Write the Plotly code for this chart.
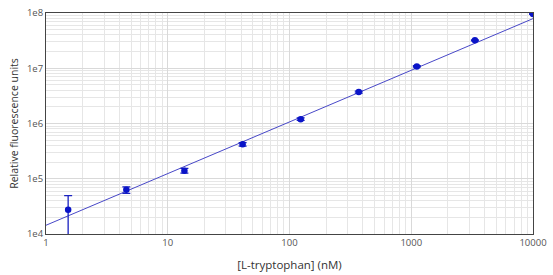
import numpy as np
import plotly.graph_objects as go

conc_nM = [1.52, 4.57, 13.7, 41.2, 123.5, 370.4, 1111, 3333, 10000]
rfu = [27500, 63000, 140000, 420000, 1.2e6, 3.7e6, 1.08e7, 3.2e7, 9.6e7]
rfu_err = [22000, 8500, 14000, 30000, 60000, 150000, 300000, 600000, 1.0e6]

fit_intercept = 14400
fit_slope = 0.935

x_ticks = [1, 10, 100, 1000, 10000]
x_ticktext = ["1", "10", "100", "1000", "10000"]
y_ticks = [1e4, 1e5, 1e6, 1e7, 1e8]
y_ticktext = ["1e4", "1e5", "1e6", "1e7", "1e8"]

fit_x = np.logspace(0, 4, 50)
fit_y = fit_intercept * fit_x ** fit_slope

fig = go.Figure()
fig.add_trace(go.Scatter(x=fit_x, y=fit_y, mode="lines",
                         line=dict(color="#4848c8", width=1), hoverinfo="skip",
                         showlegend=False))
fig.add_trace(go.Scatter(x=conc_nM, y=rfu, mode="markers",
                         marker=dict(color="#0a14c8", size=6.5),
                         error_y=dict(type="data", array=rfu_err, color="#1a22c0",
                                      thickness=1.3, width=4),
                         showlegend=False))

axis_common = dict(showline=True, linecolor="#444", linewidth=1, mirror=True,
                   showgrid=True, gridcolor="#d9d9d9", gridwidth=1,
                   ticks="", tickfont=dict(family="Open Sans", size=9.5, color="#555"),
                   zeroline=False,
                   minor=dict(dtick="D1", showgrid=True, gridcolor="#e6e6e6", gridwidth=1))

fig.update_xaxes(type="log", range=[0, 4], tickvals=x_ticks, ticktext=x_ticktext,
                 title=dict(text="[L-tryptophan] (nM)", standoff=12,
                            font=dict(family="Open Sans", size=11.5, color="#333")),
                 **axis_common)
fig.update_yaxes(type="log", range=[4, 8], tickvals=y_ticks, ticktext=y_ticktext,
                 title=dict(text="Relative fluorescence units", standoff=6,
                            font=dict(family="Open Sans", size=10.5, color="#333")),
                 **axis_common)

fig.update_layout(width=553, height=275, margin=dict(l=46, r=14, t=6, b=39),
                  plot_bgcolor="white", paper_bgcolor="white")
fig.write_html("out.html")
